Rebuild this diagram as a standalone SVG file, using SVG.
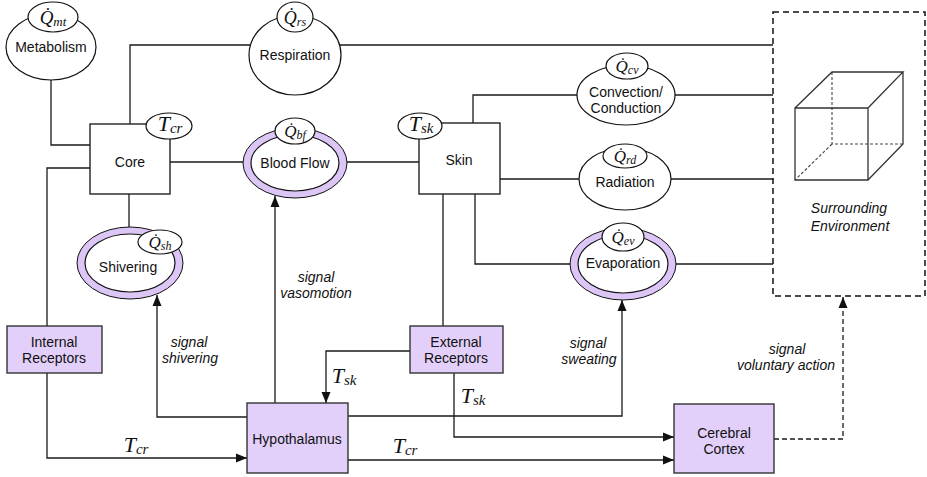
<svg xmlns="http://www.w3.org/2000/svg" width="927" height="477" viewBox="0 0 927 477">
<style>
.bg{fill:#fff}
.ln{fill:none;stroke:#1a1a1a;stroke-width:1.3}
.dash{fill:none;stroke:#1a1a1a;stroke-width:1.3;stroke-dasharray:5 3}
.box{fill:#fff;stroke:#222;stroke-width:1.4}
.pbox{fill:#e2d0fa;stroke:#333;stroke-width:1.4}
.ell{fill:#fff;stroke:#111;stroke-width:1.2}
.ring{fill:#dcc6f6;stroke:#111;stroke-width:1}
.lbl{font-family:"Liberation Sans",Arial,sans-serif;font-size:14px;fill:#111;text-anchor:middle}
.it{font-family:"Liberation Sans",Arial,sans-serif;font-size:14px;font-style:italic;fill:#111;text-anchor:middle}
.m{font-family:"Liberation Serif","Times New Roman",serif;font-style:italic;fill:#111;text-anchor:middle}
.cube{fill:none;stroke:#333;stroke-width:1.3}
.cubed{fill:none;stroke:#444;stroke-width:1.1;stroke-dasharray:3 2}
</style>
<defs>
<marker id="arr" markerUnits="userSpaceOnUse" markerWidth="12" markerHeight="10" refX="11" refY="5" orient="auto">
<path d="M0,0.5 L11,5 L0,9.5 Z" fill="#111"/>
</marker>
</defs>
<rect class="bg" x="0" y="0" width="927" height="477"/>

<g id="connectors">
<path class="ln" d="M51,80 V145 H90"/>
<path class="ln" d="M130,124 V45 H252"/>
<path class="ln" d="M338,45 H773"/>
<path class="ln" d="M170,162 H243"/>
<path class="ln" d="M347,162 H419"/>
<path class="ln" d="M129,194 V227"/>
<path class="ln" d="M47,326 V168 H90"/>
<path class="ln" d="M473,123 V95 H577"/>
<path class="ln" d="M675,95 H773"/>
<path class="ln" d="M500,179 H579"/>
<path class="ln" d="M671,179 H773"/>
<path class="ln" d="M475,194 V264 H570"/>
<path class="ln" d="M676,264 H773"/>
<path class="ln" d="M443,194 V326"/>
<path class="ln" d="M47,373 V458 H247" marker-end="url(#arr)"/>
<path class="ln" d="M275,403 V196" marker-end="url(#arr)"/>
<path class="ln" d="M247,417 H157 V295" marker-end="url(#arr)"/>
<path class="ln" d="M410,351 H326 V403" marker-end="url(#arr)"/>
<path class="ln" d="M348,416 H622 V300" marker-end="url(#arr)"/>
<path class="ln" d="M454,373 V437 H674" marker-end="url(#arr)"/>
<path class="ln" d="M348,460 H674" marker-end="url(#arr)"/>
<path class="dash" d="M774,439 H843 V297" marker-end="url(#arr)"/>
</g>

<g id="labels">
<text class="it" x="316" y="282">signal</text>
<text class="it" x="316" y="298">vasomotion</text>
<text class="it" x="189" y="347">signal</text>
<text class="it" x="190" y="363">shivering</text>
<text class="it" x="588" y="348">signal</text>
<text class="it" x="589" y="364">sweating</text>
<text class="it" x="787" y="354">signal</text>
<text class="it" x="786" y="370">voluntary action</text>
<text class="m" x="136" y="452" font-size="22">T<tspan font-size="15" dy="2">cr</tspan></text>
<text class="m" x="405" y="453" font-size="22">T<tspan font-size="15" dy="2">cr</tspan></text>
<text class="m" x="344" y="383" font-size="22">T<tspan font-size="15" dy="2">sk</tspan></text>
<text class="m" x="473" y="403" font-size="22">T<tspan font-size="15" dy="2">sk</tspan></text>
</g>

<g id="metabolism">
<ellipse class="ell" cx="51" cy="47" rx="45" ry="33"/>
<text class="lbl" x="51" y="52">Metabolism</text>
<ellipse class="ell" cx="53" cy="17" rx="25" ry="15"/>
<text class="m" x="53" y="24" font-size="19">Q&#x307;<tspan font-size="13" dy="2">mt</tspan></text>
</g>

<g id="respiration">
<ellipse class="ell" cx="295" cy="55" rx="46" ry="40"/>
<text class="lbl" x="295" y="60">Respiration</text>
<ellipse class="ell" cx="295" cy="17" rx="18" ry="15"/>
<text class="m" x="295" y="24" font-size="18">Q&#x307;<tspan font-size="12" dy="2">rs</tspan></text>
</g>

<g id="core">
<rect class="box" x="90" y="124" width="80" height="70"/>
<text class="lbl" x="130" y="167">Core</text>
<ellipse class="ell" cx="169" cy="126" rx="23" ry="13"/>
<text class="m" x="170" y="131" font-size="22">T<tspan font-size="15" dy="2">cr</tspan></text>
</g>

<g id="bloodflow">
<ellipse class="ring" cx="295" cy="163" rx="52" ry="35"/>
<ellipse class="ell" cx="295" cy="163" rx="44" ry="28"/>
<text class="lbl" x="295" y="168">Blood Flow</text>
<ellipse class="ell" cx="295" cy="131" rx="20" ry="13"/>
<text class="m" x="295" y="137" font-size="17">Q&#x307;<tspan font-size="12" dy="2">bf</tspan></text>
</g>

<g id="shivering">
<ellipse class="ring" cx="130" cy="263" rx="53" ry="36"/>
<ellipse class="ell" cx="130" cy="263" rx="45" ry="29"/>
<text class="lbl" x="128" y="272">Shivering</text>
<ellipse class="ell" cx="160" cy="242" rx="22" ry="12"/>
<text class="m" x="160" y="248" font-size="17">Q&#x307;<tspan font-size="12" dy="2">sh</tspan></text>
</g>

<g id="skin">
<rect class="box" x="419" y="123" width="81" height="71"/>
<text class="lbl" x="459" y="165">Skin</text>
<ellipse class="ell" cx="420" cy="126" rx="22" ry="13"/>
<text class="m" x="421" y="131" font-size="22">T<tspan font-size="15" dy="2">sk</tspan></text>
</g>

<g id="convection">
<ellipse class="ell" cx="626" cy="95" rx="49" ry="30"/>
<text class="lbl" x="626" y="97">Convection/</text>
<text class="lbl" x="626" y="113">Conduction</text>
<ellipse class="ell" cx="627" cy="66" rx="21" ry="13"/>
<text class="m" x="627" y="72" font-size="17">Q&#x307;<tspan font-size="12" dy="2">cv</tspan></text>
</g>

<g id="radiation">
<ellipse class="ell" cx="625" cy="179" rx="46" ry="31"/>
<text class="lbl" x="625" y="187">Radiation</text>
<ellipse class="ell" cx="625" cy="156" rx="22" ry="12"/>
<text class="m" x="625" y="162" font-size="17">Q&#x307;<tspan font-size="12" dy="2">rd</tspan></text>
</g>

<g id="evaporation">
<ellipse class="ring" cx="623" cy="264" rx="53" ry="36"/>
<ellipse class="ell" cx="623" cy="264" rx="45" ry="29"/>
<text class="lbl" x="623" y="268">Evaporation</text>
<ellipse class="ell" cx="623" cy="237" rx="21" ry="14"/>
<text class="m" x="623" y="243" font-size="17">Q&#x307;<tspan font-size="12" dy="2">ev</tspan></text>
</g>

<g id="environment">
<rect x="773" y="12" width="152" height="284" fill="none" stroke="#111" stroke-width="1.5" stroke-dasharray="6 4"/>
<path class="cubed" d="M832,72 V144 H903 M832,144 L795,180"/>
<path class="cube" d="M795,108 H868 V180 H795 Z M795,108 L832,72 H903 L868,108 M903,72 V144 L868,180"/>
<text class="it" x="849" y="213">Surrounding</text>
<text class="it" x="850" y="231">Environment</text>
</g>

<g id="internal-receptors">
<rect class="pbox" x="7" y="326" width="95" height="47"/>
<text class="lbl" x="54" y="347">Internal</text>
<text class="lbl" x="54" y="363">Receptors</text>
</g>

<g id="external-receptors">
<rect class="pbox" x="410" y="326" width="93" height="47"/>
<text class="lbl" x="456" y="347">External</text>
<text class="lbl" x="456" y="363">Receptors</text>
</g>

<g id="hypothalamus">
<rect class="pbox" x="247" y="403" width="101" height="70"/>
<text class="lbl" x="297" y="444">Hypothalamus</text>
</g>

<g id="cerebral-cortex">
<rect class="pbox" x="674" y="404" width="100" height="69"/>
<text class="lbl" x="724" y="438">Cerebral</text>
<text class="lbl" x="724" y="454">Cortex</text>
</g>
</svg>
